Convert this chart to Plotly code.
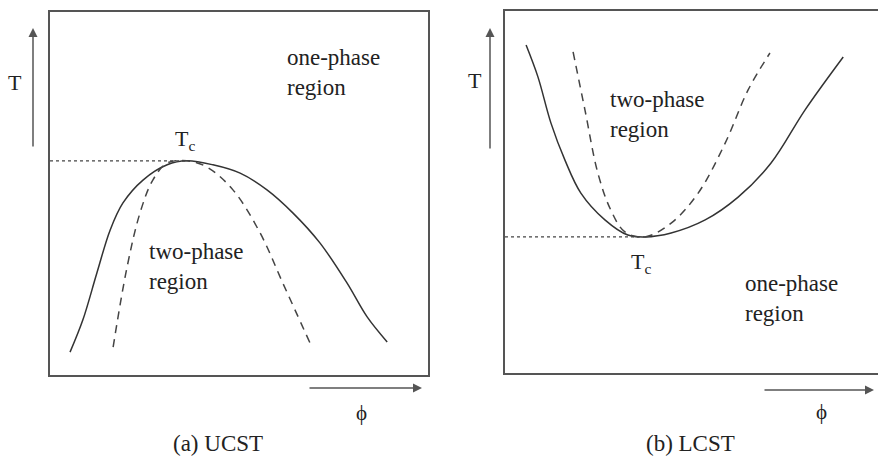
import plotly.graph_objects as go

# ---- data (normalised composition phi, normalised temperature T) ----
# (a) UCST
ucst_binodal_phi = [0.053, 0.087, 0.124, 0.159, 0.193, 0.246, 0.310, 0.362, 0.431, 0.503, 0.574, 0.643, 0.714, 0.786, 0.839, 0.892]
ucst_binodal_T   = [0.063, 0.152, 0.281, 0.399, 0.474, 0.537, 0.579, 0.590, 0.579, 0.556, 0.510, 0.446, 0.364, 0.253, 0.160, 0.091]
ucst_spinodal_phi = [0.167, 0.204, 0.238, 0.272, 0.310, 0.362, 0.415, 0.484, 0.556, 0.616, 0.688]
ucst_spinodal_T   = [0.077, 0.298, 0.446, 0.537, 0.584, 0.590, 0.573, 0.510, 0.391, 0.253, 0.088]
ucst_tc_phi, ucst_tc_T = 0.362, 0.590

# (b) LCST
lcst_binodal_phi = [0.057, 0.089, 0.124, 0.162, 0.205, 0.270, 0.332, 0.378, 0.449, 0.541, 0.630, 0.719, 0.811, 0.914]
lcst_binodal_T   = [0.906, 0.818, 0.691, 0.588, 0.497, 0.423, 0.381, 0.376, 0.387, 0.423, 0.486, 0.580, 0.727, 0.873]
lcst_spinodal_phi = [0.184, 0.216, 0.251, 0.286, 0.324, 0.378, 0.449, 0.522, 0.595, 0.657, 0.716]
lcst_spinodal_T   = [0.887, 0.727, 0.552, 0.450, 0.390, 0.376, 0.414, 0.497, 0.635, 0.782, 0.884]
lcst_tc_phi, lcst_tc_T = 0.378, 0.376

captions = ["(a) UCST", "(b) LCST"]

FONT = "Liberation Serif"
LINE = "#333333"
BOX = "#555555"

fig = go.Figure()

def add_panel(xa, ya, bphi, bT, sphi, sT, tcphi, tcT):
    fig.add_trace(go.Scatter(x=bphi, y=bT, mode="lines", xaxis=xa, yaxis=ya,
                             line=dict(color=LINE, width=1.5, shape="spline", smoothing=1.0),
                             hoverinfo="skip", showlegend=False))
    fig.add_trace(go.Scatter(x=sphi, y=sT, mode="lines", xaxis=xa, yaxis=ya,
                             line=dict(color="#444444", width=1.5, dash="8px,6px", shape="spline", smoothing=1.0),
                             hoverinfo="skip", showlegend=False))
    fig.add_trace(go.Scatter(x=[0, tcphi], y=[tcT, tcT], mode="lines", xaxis=xa, yaxis=ya,
                             line=dict(color="#444444", width=1.2, dash="3px,3px"),
                             hoverinfo="skip", showlegend=False))

add_panel("x", "y", ucst_binodal_phi, ucst_binodal_T, ucst_spinodal_phi, ucst_spinodal_T, ucst_tc_phi, ucst_tc_T)
add_panel("x2", "y2", lcst_binodal_phi, lcst_binodal_T, lcst_spinodal_phi, lcst_spinodal_T, lcst_tc_phi, lcst_tc_T)

W, H = 878, 456
ax_common = dict(showgrid=False, zeroline=False, showticklabels=False, ticks="",
                 showline=True, linecolor=BOX, linewidth=2, fixedrange=True)

fig.update_layout(
    width=W, height=H,
    margin=dict(l=0, r=0, t=0, b=0),
    paper_bgcolor="white", plot_bgcolor="white",
    font=dict(family=FONT),
    xaxis=dict(domain=[50 / W, 428 / W], range=[0, 1], mirror=True, anchor="y", **ax_common),
    yaxis=dict(domain=[1 - 375 / H, 1 - 12 / H], range=[0, 1], mirror=True, anchor="x", **ax_common),
    xaxis2=dict(domain=[505 / W, 1.0], range=[0, 1.008], mirror=True, anchor="y2", **ax_common),
    yaxis2=dict(domain=[1 - 373 / H, 1 - 11 / H], range=[0, 1], mirror=False, anchor="x2", **ax_common),
)

def txt(x, y, text, xref, yref, size=23, xanchor="center", yanchor="middle"):
    fig.add_annotation(x=x, y=y, xref=xref, yref=yref, text=text, showarrow=False,
                       xanchor=xanchor, yanchor=yanchor, align="left",
                       font=dict(family=FONT, size=size, color="#222222"))

# region labels (data coordinates)
txt(0.622, 0.832, "one-phase<br>region", "x", "y", xanchor="left")
txt(0.257, 0.298, "two-phase<br>region", "x", "y", xanchor="left")
txt(ucst_tc_phi - 0.005, ucst_tc_T + 0.057, "T<sub>c</sub>", "x", "y", size=22)

txt(0.278, 0.715, "two-phase<br>region", "x2", "y2", xanchor="left")
txt(0.643, 0.207, "one-phase<br>region", "x2", "y2", xanchor="left")
txt(lcst_tc_phi - 0.01, lcst_tc_T - 0.072, "T<sub>c</sub>", "x2", "y2", size=22)

# axis arrows (paper coordinates)
def arrow(xt, yt, axp, ayp):
    fig.add_annotation(x=xt / W, y=1 - yt / H, xref="paper", yref="paper", text="",
                       showarrow=True, ax=axp, ay=ayp, arrowhead=2, arrowsize=1.2,
                       arrowwidth=1.5, arrowcolor=BOX, standoff=0, startstandoff=0)

arrow(33, 28, 0, 120)
arrow(422, 388, -114, 0)
arrow(490, 28, 0, 122)
arrow(874, 390, -111, 0)

txt(15 / W, 1 - 82 / H, "T", "paper", "paper", size=22)
txt(475 / W, 1 - 80 / H, "T", "paper", "paper", size=22)
txt(361 / W, 1 - 413 / H, "ϕ", "paper", "paper", size=21)
txt(821 / W, 1 - 412 / H, "ϕ", "paper", "paper", size=21)

txt(218 / W, 1 - 443 / H, captions[0], "paper", "paper", size=23)
txt(690 / W, 1 - 443 / H, captions[1], "paper", "paper", size=23)

fig.write_html("out.html",
               config={"displayModeBar": False, "staticPlot": True},
               post_script="document.body.style.margin='0';document.body.style.padding='0';"
                           "document.documentElement.style.overflow='hidden';")
